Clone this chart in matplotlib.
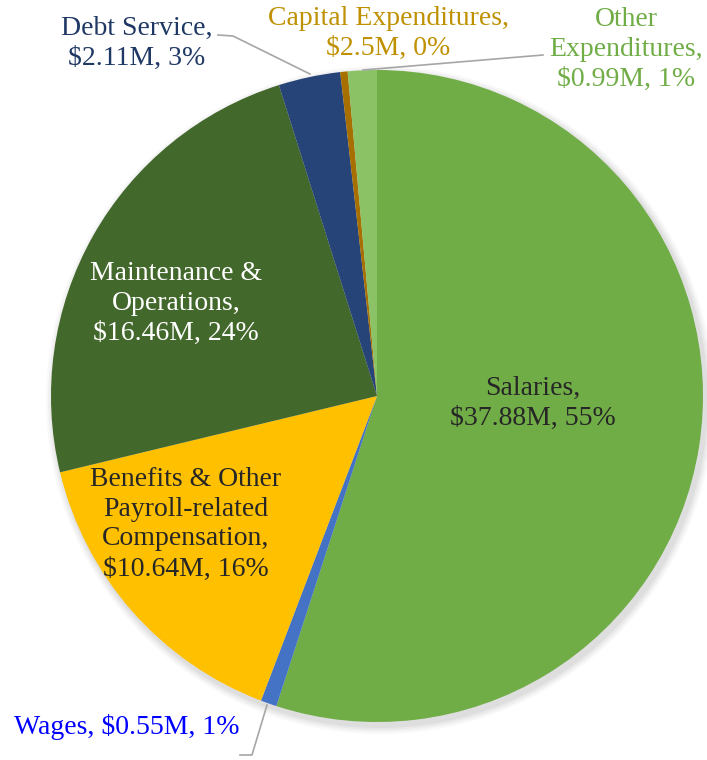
import numpy as np
import matplotlib.pyplot as plt
from matplotlib.patches import Circle

# donnees (en M$)
names = ['Salaries', 'Wages', 'Benefits & Other\nPayroll-related\nCompensation',
         'Maintenance &\nOperations', 'Debt Service', 'Capital Expenditures',
         'Other\nExpenditures']
values = [37.88, 0.55, 10.64, 16.46, 2.11, 0.25, 0.99]
amount_txt = ['$37.88M', '$0.55M', '$10.64M', '$16.46M', '$2.11M', '$2.5M', '$0.99M']
pct_txt = ['55%', '1%', '16%', '24%', '3%', '0%', '1%']

colors = ['#70AD47', '#4472C4', '#FFC000', '#43682B', '#264478', '#A66F00', '#8CC266']
txt_colors = ['#262626', '#0000FF', '#262626', 'white', '#1F3864', '#BF9000', '#70AD47']

W, H = 707, 760
fig = plt.figure(figsize=(W / 100, H / 100), dpi=100)
ax = fig.add_axes([0, 0, 1, 1])

cx, cy, r = 377, 396, 326

# ombre
for i, a in enumerate([0.025, 0.03, 0.035, 0.04]):
    ax.add_patch(Circle((cx + 3, cy + 4), r + 8 - 2 * i, color='k', alpha=a, lw=0, zorder=0))

# axe y inverse (coord. pixels) -> sens trigo inverse a l'ecran
wedges, _ = ax.pie(values, colors=colors, startangle=-90, counterclock=True,
                   center=(cx, cy), radius=r, frame=True,
                   wedgeprops=dict(linewidth=0))
for w in wedges:
    w.set_zorder(1)
ax.set_xlim(0, W)
ax.set_ylim(H, 0)
ax.set_aspect('equal')
ax.axis('off')

font = 'Liberation Serif'
fs = 20

labels = []
for n, a, p in zip(names, amount_txt, pct_txt):
    if n == 'Wages':
        labels.append(n + ', ' + a + ', ' + p)
    else:
        labels.append(n + ',\n' + a + ', ' + p)

pos = [(533, 403, 'center'), (14, 727, 'left'), (186, 524, 'center'),
       (176, 303, 'center'), (137, 43, 'center'), (388, 33, 'center'),
       (626, 49, 'center')]

for lab, (x, y, ha), c in zip(labels, pos, txt_colors):
    ax.text(x, y, lab, ha=ha, va='center', color=c, fontsize=fs,
            family=font, linespacing=1.26, zorder=3)

# lignes de rappel
ax.plot([218, 233, 310], [35, 36, 74], color='#A6A6A6', lw=1.2, zorder=2)
ax.plot([363, 543], [70, 55], color='#A6A6A6', lw=1.2, zorder=2)
ax.plot([267, 252, 240], [705, 755, 755], color='#A6A6A6', lw=1.2, zorder=2)

fig.savefig('out.png', dpi=100)
